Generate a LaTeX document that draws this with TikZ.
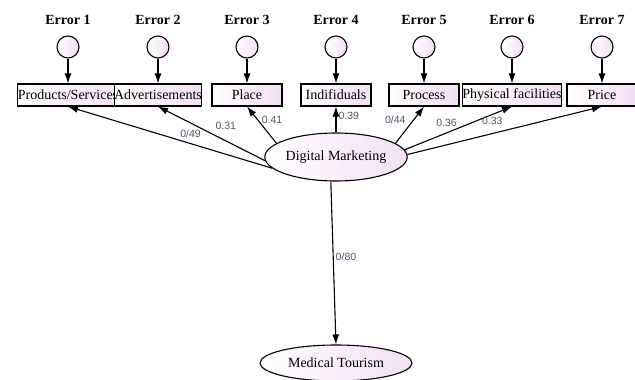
\documentclass[tikz,border=0pt]{standalone}
\usepackage{fontspec}
\setmainfont{Liberation Serif}
\setsansfont{Liberation Sans}
\usetikzlibrary{arrows.meta,shapes.geometric,positioning}
\definecolor{semfill}{RGB}{244,222,244}
\definecolor{coefgray}{RGB}{75,85,105}
\tikzset{%
  >={Latex[width=7pt,length=10pt]},
  % Specifications for style of nodes:
        base/.style = {draw=black, line width=1.1pt, left color=white,
                       right color=semfill, font=\fontsize{14}{16}\selectfont},
    observed/.style = {base, rectangle, minimum width=70pt,
                       minimum height=22pt, inner sep=0pt},
     errcirc/.style = {base, circle, minimum size=22pt, inner sep=0pt},
      latent/.style = {base, ellipse, inner sep=0pt},
    errlabel/.style = {font=\fontsize{14}{16}\selectfont\bfseries},
        coef/.style = {font=\sffamily\fontsize{10.5}{12}\selectfont,
                       text=coefgray, inner sep=2pt},
     regpath/.style = {->, line width=1.1pt},
}

\begin{document}
\begin{tikzpicture}[x=1pt, y=-1pt, node distance=27pt]
\useasboundingbox (0,0) rectangle (635,380);

% error terms and their circles
\node (E1) [errlabel] at (68,20)  {Error 1};
\node (E2) [errlabel] at (158,20) {Error 2};
\node (E3) [errlabel] at (247,20) {Error 3};
\node (E4) [errlabel] at (336,20) {Error 4};
\node (E5) [errlabel] at (424,20) {Error 5};
\node (E6) [errlabel] at (512,20) {Error 6};
\node (E7) [errlabel] at (602,20) {Error 7};

\node (C1) [errcirc, below of=E1] {};
\node (C2) [errcirc, below of=E2] {};
\node (C3) [errcirc, below of=E3] {};
\node (C4) [errcirc, below of=E4] {};
\node (C5) [errcirc, below of=E5] {};
\node (C6) [errcirc, below of=E6] {};
\node (C7) [errcirc, below of=E7] {};

% observed variables
\node (PS) [observed, below of=C1, node distance=48pt] {Products/Services};
\node (AD) [observed, below of=C2, node distance=48pt] {Advertisements};
\node (PL) [observed, below of=C3, node distance=48pt] {Place};
\node (IN) [observed, below of=C4, node distance=48pt] {Indifiduals};
\node (PR) [observed, below of=C5, node distance=48pt] {Process};
\node (PH) [observed, below of=C6, node distance=48pt] {Physical facilities};
\node (PC) [observed, below of=C7, node distance=48pt] {Price};

% latent variables
\node (DM) [latent, minimum width=142pt, minimum height=48pt] at (336,157) {Digital Marketing};
\node (MT) [latent, minimum width=152pt, minimum height=36pt] at (336,363) {Medical Tourism};

\draw[regpath] (C1) -- (PS);
\draw[regpath] (C2) -- (AD);
\draw[regpath] (C3) -- (PL);
\draw[regpath] (C4) -- (IN);
\draw[regpath] (C5) -- (PR);
\draw[regpath] (C6) -- (PH);
\draw[regpath] (C7) -- (PC);

\draw[regpath] (DM.190) -- node[coef, pos=0.4, above=3pt] {0/49} (PS.south);
\draw[regpath] (DM.183) -- node[coef, pos=0.5, above right=2pt] {0.31} (AD.south);
\draw[regpath] (DM.167) -- node[coef, pos=0.65, right=2pt] {0.41} (PL.south);
\draw[regpath] (DM.north) -- node[coef, pos=0.65, right] {0.39} (IN.south);
\draw[regpath] (DM.13) -- node[coef, pos=0.65, left=6pt] {0/44} (PR.south);
\draw[regpath] (DM.6) -- node[coef, pos=0.39, above=4pt] {0.36} (PH.south);
\draw[regpath] (DM.2) -- node[coef, pos=0.436, above=6pt] {0.33} (PC.south);
\draw[regpath] (DM.258) -- node[coef, pos=0.46, right] {0/80} (MT.north);
\end{tikzpicture}
\end{document}
